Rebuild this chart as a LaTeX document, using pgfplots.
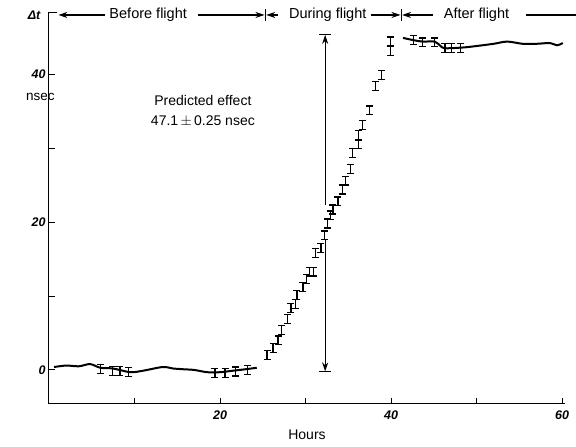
\documentclass[border=0pt]{standalone}
\usepackage{fontspec}
\setmainfont{Liberation Sans}
\usepackage{pgfplots}
\pgfplotsset{compat=1.18}
\usetikzlibrary{arrows.meta}
\begin{document}
\begin{tikzpicture}
\path[use as bounding box] (0,0) rectangle (576pt,447pt);
\begin{axis}[
 at={(49pt,43pt)}, anchor=south west,
 scale only axis, width=516pt, height=392pt,
 xmin=0, xmax=60.35, ymin=-4.6, ymax=48.4,
 axis x line=bottom, axis y line=left,
 axis line style={-, line width=1pt, black},
 xtick={10,20,30,40,50,60}, xticklabels={,20,,40,,60},
 ytick={0,10,20,30,40}, yticklabels={0,,20,,40},
 tick align=inside, major tick length=6pt,
 tick style={line width=1pt, black},
 tick label style={font=\fontsize{12.5}{14}\selectfont\bfseries\itshape},
 xticklabel style={yshift=-3pt},
 /pgf/number format/assume math mode=true,
 xlabel={Hours}, xlabel style={font=\fontsize{14}{16}\selectfont, yshift=-4pt},
 clip=false,
]
% before flight line
\addplot[line width=2pt, smooth, black] coordinates {
(0.6,0.4) (2,0.6) (3.5,0.5) (4.8,0.8) (6,0.3) (7.5,0.2) (9.5,-0.3) (11,-0.1)
(13.3,0.4) (14.5,0.2) (15.7,0.1) (17,0.0) (18.5,-0.3) (20,-0.3) (21.5,-0.1)
(23,0.1) (24.3,0.3)};
% after flight line
\addplot[line width=2pt, smooth, black] coordinates {
(41.4,44.9) (42.6,44.6) (43.7,44.4) (45.1,44.4) (45.8,43.8) (46.3,43.5)
(48.4,43.6) (50,43.8) (52,44.1) (53.6,44.4) (55.4,44.1) (57,44.1) (58.6,44.2)
(59.4,43.9) (60.1,44.2)};
% error bar points
\addplot[draw=none, mark=none, error bars/.cd, y dir=both, y fixed=0.6,
 error bar style={line width=1.3pt, draw=black, solid},
 error mark options={rotate=90, mark size=3.5pt, line width=1.3pt, draw=black, solid}]
 coordinates {
(6.0,0.1) (7.4,-0.1) (8.3,-0.1) (9.3,-0.3)
(19.4,-0.4) (20.6,-0.4) (21.8,-0.2) (23.2,0.0)
(25.5,2.0) (26.2,3.0) (26.8,4.0) (27.2,5.4) (27.9,6.9) (28.3,8.4) (28.8,8.9)
(29.0,10.1) (29.7,11.2) (30.1,12.3) (30.5,13.3) (30.9,13.3) (31.2,15.8)
(31.8,16.5) (32.2,18.2) (32.6,19.8) (32.9,20.9) (33.2,21.7) (33.8,22.8)
(34.3,24.4) (34.7,25.6) (35.3,27.2) (35.5,29.3) (36.2,30.5) (36.2,31.8)
(36.7,33.1) (37.5,35.1) (38.2,38.4) (38.9,39.9) (39.9,43.1) (39.9,44.4)
(42.6,44.6) (43.7,44.3) (45.1,44.3) (46.3,43.5) (47.1,43.5) (48.1,43.5)
};
% predicted effect arrow
\draw[line width=1.1pt, -{Stealth[length=9pt,width=6pt]}] (axis cs:32.3,22.3) -- (axis cs:32.3,45.3);
\draw[line width=1.1pt, -{Stealth[length=9pt,width=6pt]}] (axis cs:32.3,17.6) -- (axis cs:32.3,-0.2);
\draw[line width=1.1pt] (axis cs:31.6,45.3) -- (axis cs:33.0,45.3);
\draw[line width=1.1pt] (axis cs:31.6,-0.2) -- (axis cs:33.0,-0.2);
\node[align=center, font=\fontsize{14}{20}\selectfont] at (axis cs:18.0,35.0) {Predicted effect\\47.1\,$\pm$\,0.25 nsec};
% axis top corner
\draw[line width=1pt] (axis cs:0,48.4) -- (axis cs:0.9,48.4);
\node[font=\fontsize{12.5}{14}\selectfont\bfseries\itshape] at (axis cs:-1.75,48.0) {Δt};
\node[font=\fontsize{13.5}{15}\selectfont] at (axis cs:-1.0,36.9) {nsec};
% top annotation
\begin{scope}[line width=1.1pt, font=\fontsize{14.5}{16}\selectfont]
\draw[-{Stealth[length=9pt,width=6pt]}] (axis cs:6.6,48) -- (axis cs:1.1,48);
\node at (axis cs:11.6,48) {Before flight};
\draw[-{Stealth[length=9pt,width=6pt]}] (axis cs:17.4,48) -- (axis cs:25.2,48);
\draw (axis cs:25.3,47.2) -- (axis cs:25.3,48.8);
\draw[-{Stealth[length=9pt,width=6pt]}] (axis cs:26.8,48) -- (axis cs:25.4,48);
\node at (axis cs:32.6,48) {During flight};
\draw[-{Stealth[length=9pt,width=6pt]}] (axis cs:37.7,48) -- (axis cs:41.1,48);
\draw (axis cs:41.2,47.2) -- (axis cs:41.2,48.8);
\draw[-{Stealth[length=9pt,width=6pt]}] (axis cs:44.9,48) -- (axis cs:41.3,48);
\node at (axis cs:50.0,48) {After flight};
\draw (axis cs:55.8,48) -- (axis cs:61.6,48);
\end{scope}
\end{axis}
\end{tikzpicture}
\end{document}
